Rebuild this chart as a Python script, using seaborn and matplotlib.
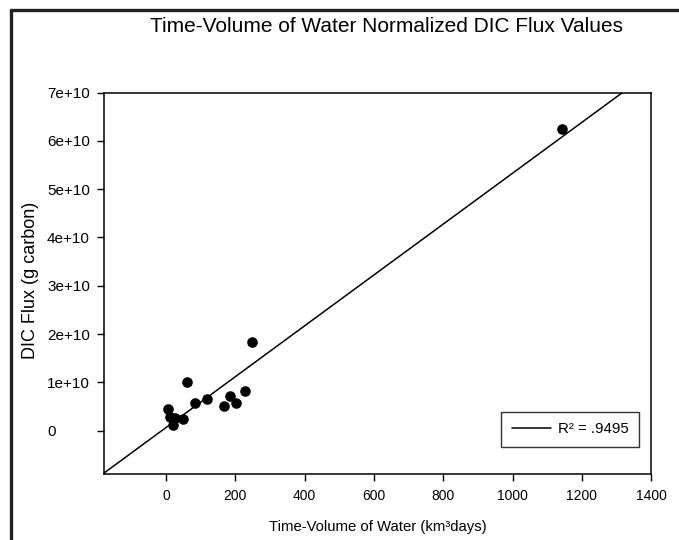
import matplotlib
matplotlib.use("Agg")
import matplotlib.pyplot as plt
from matplotlib.lines import Line2D
import seaborn as sns
import numpy as np
import pandas as pd

# Data
water_volume = [1143, 249, 61, 227, 185, 202, 167, 117, 84, 6, 12, 26, 50, 19]   # km^3 days
dic_flux = [6.25e10, 1.83e10, 1.00e10, 0.83e10, 0.72e10, 0.57e10, 0.51e10,
            0.66e10, 0.57e10, 0.45e10, 0.29e10, 0.27e10, 0.24e10, 0.12e10]     # g carbon
x_ticks = [0, 200, 400, 600, 800, 1000, 1200, 1400]
y_ticks = [0, 1e10, 2e10, 3e10, 4e10, 5e10, 6e10, 7e10]
y_tick_labels = ["0", "1e+10", "2e+10", "3e+10", "4e+10", "5e+10", "6e+10", "7e+10"]
legend_label = "R\u00b2 = .9495"

df = pd.DataFrame({"x": water_volume, "y": dic_flux})

sns.set_style("ticks")
plt.rcParams["font.family"] = ["Liberation Sans", "DejaVu Sans"]
plt.rcParams["text.color"] = "black"
plt.rcParams["axes.labelcolor"] = "black"
plt.rcParams["xtick.color"] = "black"
plt.rcParams["ytick.color"] = "black"

fig = plt.figure(figsize=(6.79, 5.40), dpi=100)
ax = fig.add_axes([104 / 679, 66 / 540, (651.3 - 104) / 679, (474 - 92.7) / 540])

ax.set_xlim(-179, 1400)
ax.set_ylim(-0.9e10, 7e10)

sns.regplot(data=df, x="x", y="y", ax=ax, ci=None, truncate=False,
            scatter_kws=dict(s=58, color="black", edgecolor="black", linewidths=0,
                             alpha=1, zorder=3),
            line_kws=dict(color="black", lw=1.1))
ax.set_xlim(-179, 1400)
ax.set_ylim(-0.9e10, 7e10)

ax.set_xticks(x_ticks)
ax.set_xticklabels([str(t) for t in x_ticks])
ax.set_yticks(y_ticks)
ax.set_yticklabels(y_tick_labels, ha="left")
ax.tick_params(axis="x", direction="out", length=5, width=1, labelsize=10, pad=6)
ax.tick_params(axis="y", direction="out", length=5, width=1, labelsize=11, pad=36)
for sp in ax.spines.values():
    sp.set_visible(True)
    sp.set_color("black")
    sp.set_linewidth(1.1)

ax.set_xlabel("Time-Volume of Water (km\u00b3days)", fontsize=10.7, labelpad=12)
ax.set_ylabel("DIC Flux (g carbon)", fontsize=13)
ax.yaxis.set_label_coords(-0.119, 0.507)

handle = Line2D([0], [0], color="black", lw=1.1)
leg = ax.legend([handle], [legend_label], loc="lower right", fontsize=10.8,
                frameon=True, fancybox=False, edgecolor="black",
                handlelength=2.6, handletextpad=0.45, borderpad=0.7, borderaxespad=0,
                bbox_to_anchor=(0.9775, 0.071))
leg.get_frame().set_linewidth(1.0)

fig.text(386 / 679, 1 - 27 / 540, "Time-Volume of Water Normalized DIC Flux Values",
         ha="center", va="center", fontsize=15)

# figure frame (top and left edges visible)
fig.add_artist(Line2D([10.5 / 679, 10.5 / 679], [0, 1 - 9.5 / 540], transform=fig.transFigure,
                      color="#222222", lw=2.4))
fig.add_artist(Line2D([10.5 / 679, 1], [1 - 9.5 / 540, 1 - 9.5 / 540], transform=fig.transFigure,
                      color="#222222", lw=2.4))

fig.savefig("out.png", dpi=100)
